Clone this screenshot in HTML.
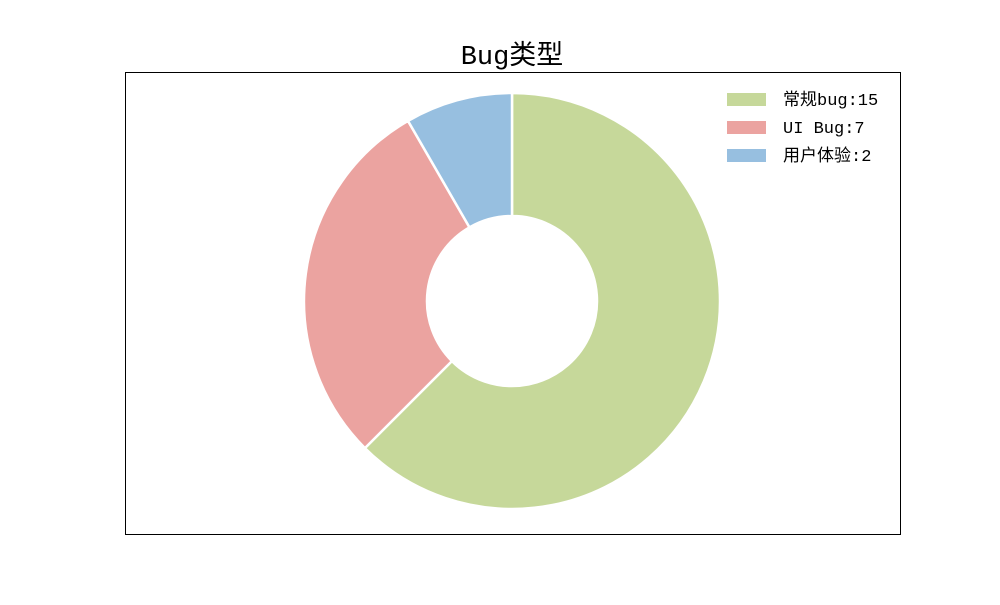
<!DOCTYPE html>
<html>
<head>
<meta charset="utf-8">
<style>
  html,body{margin:0;padding:0;background:#fff;}
  body{width:1000px;height:600px;overflow:hidden;}
  svg text{font-family:"Liberation Mono","Noto Sans CJK SC",monospace;}
</style>
</head>
<body>
<svg id="chart" width="1000" height="600" viewBox="0 0 1000 600">
  <rect x="0" y="0" width="1000" height="600" fill="#fff"/>
  <rect x="125.5" y="72.5" width="775" height="462" fill="none" stroke="#000" stroke-width="1"/>
  <text x="512" y="64" text-anchor="middle" font-size="27" fill="#000">Bug类型</text>
  <g id="slices"></g>
  <g id="legend"></g>
</svg>
<script>
const categories = ["常规bug", "UI Bug", "用户体验"];
const values = [15, 7, 2];
const colors = ["#c6d89a", "#eba3a0", "#97bfe0"];

const cx = 512, cy = 301, rOuter = 208, rInner = 85;
const NS = "http://www.w3.org/2000/svg";
const total = values.reduce((a, b) => a + b, 0);
const slicesG = document.getElementById("slices");
function pt(r, deg) {
  const a = deg * Math.PI / 180;
  return [cx + r * Math.cos(a), cy - r * Math.sin(a)];
}
let start = 90;
values.forEach((v, i) => {
  const sweep = v / total * 360;
  const end = start - sweep;
  const large = sweep > 180 ? 1 : 0;
  const p1 = pt(rOuter, start), p2 = pt(rOuter, end);
  const p3 = pt(rInner, end), p4 = pt(rInner, start);
  const d = `M${p1[0]},${p1[1]} A${rOuter},${rOuter} 0 ${large} 1 ${p2[0]},${p2[1]} L${p3[0]},${p3[1]} A${rInner},${rInner} 0 ${large} 0 ${p4[0]},${p4[1]} Z`;
  const path = document.createElementNS(NS, "path");
  path.setAttribute("d", d);
  path.setAttribute("fill", colors[i]);
  path.setAttribute("stroke", "#fff");
  path.setAttribute("stroke-width", "2.5");
  path.setAttribute("stroke-linejoin", "round");
  
  
  slicesG.appendChild(path);
  start = end;
});

const legendG = document.getElementById("legend");
categories.forEach((c, i) => {
  const y = 99 + i * 28;
  const rect = document.createElementNS(NS, "rect");
  rect.setAttribute("x", 727);
  rect.setAttribute("y", y - 6);
  rect.setAttribute("width", 39);
  rect.setAttribute("height", 13);
  rect.setAttribute("fill", colors[i]);
  
  
  legendG.appendChild(rect);
  const t = document.createElementNS(NS, "text");
  t.setAttribute("x", 783);
  t.setAttribute("y", y + 6);
  t.setAttribute("font-size", "17");
  t.setAttribute("fill", "#000");
  t.textContent = c + ":" + values[i];
  
  
  legendG.appendChild(t);
});
</script>
</body>
</html>
